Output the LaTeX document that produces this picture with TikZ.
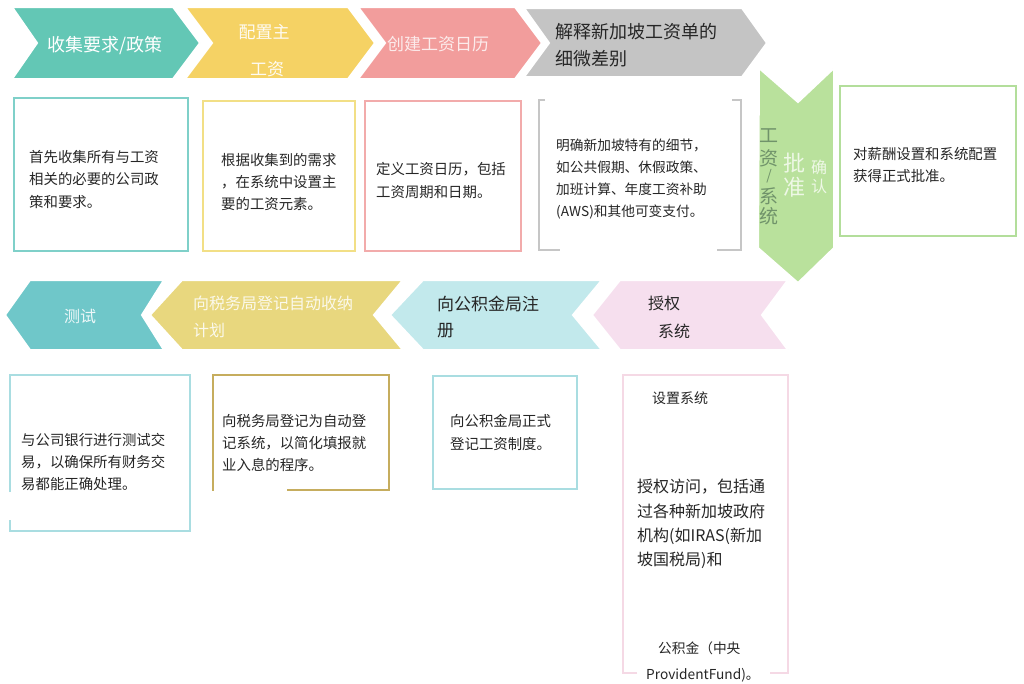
\documentclass[tikz,border=0pt]{standalone}
\usepackage{fontspec}
\setmainfont{Noto Sans CJK SC}
\definecolor{cTeal}{HTML}{63C7B5}
\definecolor{cYel}{HTML}{F5D264}
\definecolor{cPink}{HTML}{F29D9C}
\definecolor{cGray}{HTML}{C4C4C4}
\definecolor{cGreen}{HTML}{B9E19C}
\definecolor{cTealB}{HTML}{6FC7C9}
\definecolor{cYelB}{HTML}{E8D77E}
\definecolor{cCyan}{HTML}{C2E9EC}
\definecolor{cPinkB}{HTML}{F6DFEE}
\definecolor{bTeal}{HTML}{7FD0C9}
\definecolor{bYel}{HTML}{F2DF86}
\definecolor{bPink}{HTML}{F2ABAB}
\definecolor{bGray}{HTML}{C6C6C6}
\definecolor{bGreen}{HTML}{B3DE9B}
\definecolor{bCyan}{HTML}{A9DDE1}
\definecolor{bGold}{HTML}{C6AD5E}
\definecolor{bPinkB}{HTML}{F5D9E5}
\definecolor{tDark}{HTML}{262626}
\definecolor{tGreen}{HTML}{70936A}
\definecolor{tGreenL}{HTML}{EEF8E6}
\newcommand\myfs[2]{\fontsize{#1}{#2}\selectfont}
\begin{document}
\begin{tikzpicture}[x=1pt,y=-1pt,
  chev/.style={draw=white,line width=2pt,line join=miter},
  boxline/.style={line width=2pt},
  body/.style={inner sep=0pt,anchor=west,align=left,font=\myfs{14.4}{22.3},text=tDark},
  head/.style={inner sep=0pt,font=\myfs{17}{26}},
  vchar/.style={inner sep=0pt,font=\myfs{19}{19},text=tGreen}]
\useasboundingbox (0,0) rectangle (1024,683);
\fill[white] (0,0) rectangle (1024,683);

% ---- top chevrons ----
\filldraw[chev,fill=cGray] (524,8) -- (742,8) -- (767,43) -- (742,77) -- (524,77) -- (549,43) -- cycle;
\filldraw[chev,fill=cPink] (358,7) -- (515,7) -- (542,43) -- (515,79) -- (358,79) -- (385,43) -- cycle;
\filldraw[chev,fill=cYel] (185,7) -- (348,7) -- (375,43) -- (348,79) -- (185,79) -- (212,43) -- cycle;
\filldraw[chev,fill=cTeal] (12,7) -- (173,7) -- (200,43) -- (173,79) -- (12,79) -- (37,43) -- cycle;

\node[head,font=\myfs{18}{26},text=white] (h1) at (105,46) {收集要求/政策};
\node[head,text=white!92!cYel] (h2a) at (264,32) {配置主};
\node[head,text=white!92!cYel] (h2b) at (267,69) {工资};
\node[head,text=white!80!cPink] (h3) at (438,44) {创建工资日历};
\node[head,font=\myfs{18}{27},anchor=west,align=left,text=tDark] (h4) at (555,45.5) {解释新加坡工资单的\\细微差别};

% ---- green down arrow ----
\filldraw[chev,fill=cGreen] (759,68) -- (798,102) -- (834,68) -- (834,248) -- (798,283) -- (758,248) -- cycle;
\node[vchar] (g1) at (769,136) {工};
\node[vchar] (g2) at (769,158) {资};
\node[vchar,font=\myfs{14}{14}] (g3) at (769,176.5) {/};
\node[vchar] (g4) at (769,196) {系};
\node[vchar] (g5) at (769,216) {统};
\node[inner sep=0pt,font=\myfs{22}{22},text=tGreenL] (p1) at (794,163) {批};
\node[inner sep=0pt,font=\myfs{22}{22},text=tGreenL] (p2) at (794,187) {准};
\node[inner sep=0pt,font=\myfs{16}{16},text=tGreenL] (q1) at (819,167) {确};
\node[inner sep=0pt,font=\myfs{16}{16},text=tGreenL] (q2) at (819,186) {认};

% ---- row 1 boxes ----
\draw[boxline,draw=bTeal] (14,98) rectangle (188,251);
\node[body] (t1) at (29,179.5) {首先收集所有与工资\\相关的必要的公司政\\策和要求。};
\draw[boxline,draw=bYel] (203,101) rectangle (355,251);
\node[body] (t2) at (221,182) {根据收集到的需求\\，在系统中设置主\\要的工资元素。};
\draw[boxline,draw=bPink] (365,101) rectangle (521,251);
\node[body] (t3) at (376,180.5) {定义工资日历，包括\\工资周期和日期。};
\draw[boxline,draw=bGray] (545,100) -- (539,100) -- (539,250) -- (560,250);
\draw[boxline,draw=bGray] (732,100) -- (741,100) -- (741,250) -- (717,250);
\node[body,font=\myfs{13.7}{22}] (t4) at (556,179.5) {明确新加坡特有的细节，\\如公共假期、休假政策、\\加班计算、年度工资补助\\(AWS)和其他可变支付。};
\draw[boxline,draw=bGreen] (840,86) rectangle (1016,236);
\node[body] (t5) at (853,165) {对薪酬设置和系统配置\\获得正式批准。};

% ---- row 2 chevrons ----
\filldraw[chev,fill=cPinkB] (592,315) -- (620,280) -- (788,280) -- (762,315) -- (788,350) -- (620,350) -- cycle;
\filldraw[chev,fill=cCyan] (390,315) -- (423,280) -- (602,280) -- (573,315) -- (602,350) -- (423,350) -- cycle;
\filldraw[chev,fill=cYelB] (150,315) -- (182,280) -- (403,280) -- (374,315) -- (403,350) -- (182,350) -- cycle;
\filldraw[chev,fill=cTealB] (5,315) -- (30,280) -- (164,280) -- (142,315) -- (164,350) -- (30,350) -- cycle;

\node[head,font=\myfs{16}{16},text=white!88!cTealB] (r1) at (80,316) {测试};
\node[head,font=\myfs{16}{27},anchor=west,align=left,text=white!85!cYelB] (r2) at (193,316.5) {向税务局登记自动收纳\\计划};
\node[head,anchor=west,align=left,text=tDark] (r3) at (437,317.5) {向公积金局注\\册};
\node[head,font=\myfs{16}{16},anchor=west,text=tDark] (r4a) at (648,303) {授权};
\node[head,font=\myfs{16}{16},anchor=west,text=tDark] (r4b) at (658,331) {系统};

% ---- row 2 boxes ----
\draw[boxline,draw=bCyan] (10,492) -- (10,375) -- (190,375) -- (190,531) -- (10,531) -- (10,520);
\node[body] (b1) at (21,462) {与公司银行进行测试交\\易，以确保所有财务交\\易都能正确处理。};
\draw[boxline,draw=bGold] (287,490) -- (389,490) -- (389,375) -- (213,375) -- (213,491);
\node[body] (b2) at (222,443) {向税务局登记为自动登\\记系统，以简化填报就\\业入息的程序。};
\draw[boxline,draw=bCyan] (433,376) rectangle (577,489);
\node[body] (b3) at (450,432.5) {向公积金局正式\\登记工资制度。};
\draw[boxline,draw=bPinkB] (637,673) -- (623,673) -- (623,375) -- (788,375) -- (788,673) -- (770,673);
\node[body,font=\myfs{14}{20}] (b4a) at (652,398) {设置系统};
\node[body,font=\myfs{16}{24.3}] (b4b) at (637,524) {授权访问，包括通\\过各种新加坡政府\\机构(如IRAS(新加\\坡国税局)和};
\node[body,font=\myfs{13.7}{20}] (b4c) at (658,648) {公积金（中央};
\node[body,font=\myfs{13.7}{20}] (b4d) at (646,675) {ProvidentFund)。};
\end{tikzpicture}
\end{document}
